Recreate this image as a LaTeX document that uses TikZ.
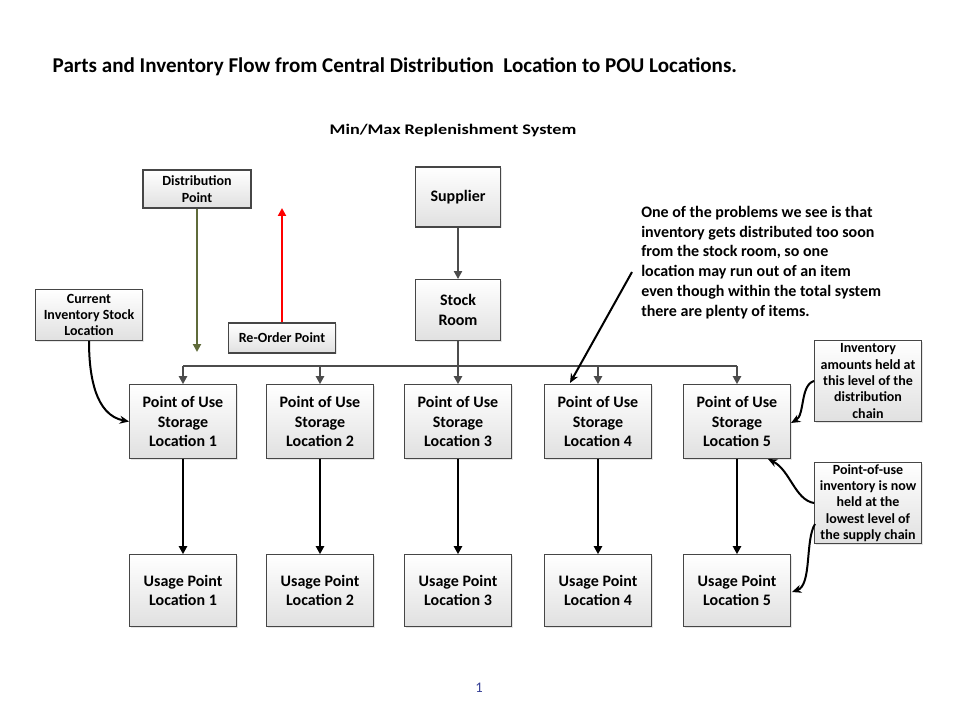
\documentclass[tikz,border=0pt]{standalone}
\usepackage{fontspec}
\setmainfont{Carlito}
\usetikzlibrary{arrows.meta,shadows}
\definecolor{olive}{RGB}{95,107,58}
\definecolor{boxline}{RGB}{70,70,70}
\definecolor{pagenum}{RGB}{55,65,150}
\tikzset{
  box/.style={draw=boxline, line width=0.9pt, top color=white, bottom color=black!12,
    align=center, inner sep=0pt, font=\bfseries\fontsize{12}{14.4}\selectfont,
    drop shadow={opacity=0.2, shadow xshift=1pt, shadow yshift=-1pt}},
  smallbox/.style={box, font=\bfseries\fontsize{10.5}{12.3}\selectfont},
  flow/.style={-{Triangle[length=6pt,width=6pt]}, line width=1.6pt},
  grayflow/.style={flow, draw=black!70},
  curvy/.style={-{Stealth[length=7pt,width=6pt]}, line width=1.5pt},
}
\begin{document}
\begin{tikzpicture}[x=0.75pt,y=-0.75pt]
\useasboundingbox (0,0) rectangle (960,720);
% titles
\node[anchor=west, font=\bfseries\fontsize{15.8}{18}\selectfont] (title) at (48,67)
  {Parts and Inventory Flow from Central Distribution\ \ Location to POU Locations.};
\node[font=\bfseries\fontsize{11}{13}\selectfont] (mm) at (453,131) {\scalebox{1.24}[1]{Min/Max Replenishment System}};
\node[font=\fontsize{11}{13}\selectfont, text=pagenum] (pg) at (479,688) {1};
% top boxes
\node[smallbox, minimum width=81pt, minimum height=28.5pt] (dist) at (197,189) {Distribution\\Point};
\node[smallbox, minimum width=80pt, minimum height=22.5pt] (reorder) at (282,338) {Re-Order Point};
\node[smallbox, minimum width=80pt, minimum height=38pt] (cur) at (89,315) {Current\\Inventory Stock\\Location};
\node[box, minimum width=64pt, minimum height=45pt] (sup) at (458,197) {Supplier};
\node[box, minimum width=64pt, minimum height=45.5pt] (stock) at (458,310) {Stock\\Room};
% annotation
\node[anchor=north west, align=left, inner sep=0pt, font=\bfseries\fontsize{12}{14.8}\selectfont] (note) at (641,206)
  {One of the problems we see is that\\inventory gets distributed too soon\\from the stock room, so one\\location may run out of an item\\even though within the total system\\there are plenty of items.};
% side boxes
\node[smallbox, minimum width=80pt, minimum height=61pt] (invamt) at (868,381) {Inventory\\amounts held at\\this level of the\\distribution\\chain};
\node[smallbox, minimum width=80pt, minimum height=61pt] (pouinfo) at (868,503) {Point-of-use\\inventory is now\\held at the\\lowest level of\\the supply chain};
% POU and usage boxes
\foreach \i/\x in {1/183,2/320,3/458,4/598,5/737}{
  \node[box, minimum width=80pt, minimum height=55pt] (pou\i) at (\x,421.5) {Point of Use\\Storage\\Location \i};
  \node[box, minimum width=80pt, minimum height=53.5pt] (use\i) at (\x,590.5) {Usage Point\\Location \i};
  \draw[flow] (pou\i) -- (use\i);
}
% bus
\coordinate (busmid) at (458,366);
\coordinate (busleft) at (183,366);
\coordinate (busright) at (737,366);
\draw[line width=1.6pt, draw=black!70] (stock.south) -- (busmid);
\draw[line width=1.6pt, draw=black!70] (busleft) -- (busright);
\foreach \i/\x in {1/183,2/320,3/458,4/598,5/737}{
  \draw[grayflow] (\x,366) -- (pou\i.north);
}
\draw[grayflow] (sup) -- (stock);
% distribution and reorder arrows
\coordinate (distend) at (197,352);
\coordinate (reordertop) at (282,208);
\draw[flow, draw=olive] (dist.south) -- (distend);
\draw[flow, draw=red] (reorder.north) -- (reordertop);
% annotation arrow
\coordinate (notestart) at (632,272);
\coordinate (noteend) at (570,383);
\draw[curvy] (notestart) -- (noteend);
% curved arrows
\coordinate (pou5r) at (791,423);
\coordinate (pou5b) at (768,459);
\coordinate (infolow) at (815,524);
\coordinate (use5r) at (792,592);
\draw[curvy] (cur.south) .. controls (89,375) and (95,415) .. (pou1.west);
\draw[curvy] (invamt.west) .. controls (800,385) and (805,415) .. (pou5r);
\draw[curvy] (pouinfo.west) .. controls (795,500) and (790,470) .. (pou5b);
\draw[curvy] (infolow) .. controls (805,540) and (812,585) .. (use5r);
\end{tikzpicture}
\end{document}
